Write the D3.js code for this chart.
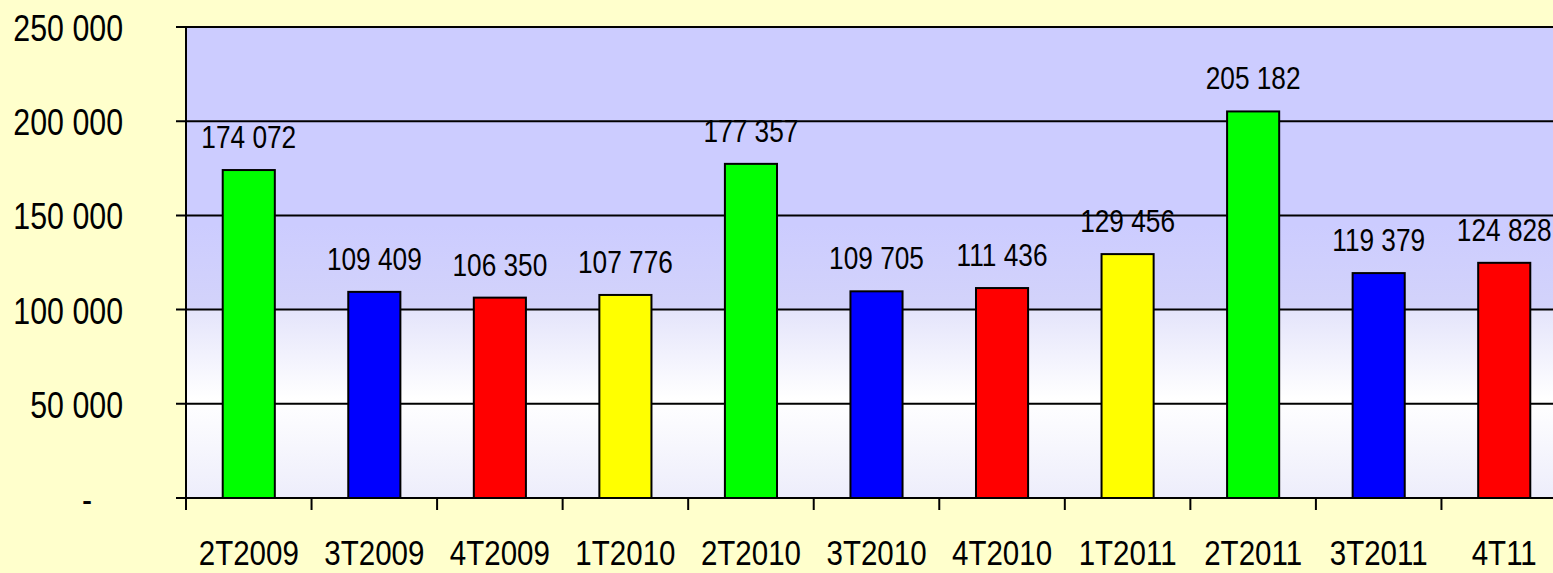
<!DOCTYPE html>
<html lang="en">
    <head>
        <meta charset="utf-8">
        <title>Trimestres</title>
        <script src="https://d3js.org/d3.v7.min.js"></script>
        <style type="text/css">
            body { margin: 0; background: #FFFFCC; }
            text { font-family: "Liberation Sans", Arial, sans-serif; fill: #000; }
        </style>
    </head>
    <body>
        <script>
            // data
            var quarters = ["2T2009", "3T2009", "4T2009", "1T2010", "2T2010", "3T2010", "4T2010", "1T2011", "2T2011", "3T2011", "4T11"];
            var values = [174072, 109409, 106350, 107776, 177357, 109705, 111436, 129456, 205182, 119379, 124828];
            var barColors = ["#00FF00", "#0000FF", "#FF0000", "#FFFF00", "#00FF00", "#0000FF", "#FF0000", "#FFFF00", "#00FF00", "#0000FF", "#FF0000"];
            var yTicks = [0, 50000, 100000, 150000, 200000, 250000];

            // configuration
            var outerWidth = 1553;
            var outerHeight = 573;
            var plot = { left: 186, right: 1567, top: 27, bottom: 498 };
            var squeeze = 0.82; // narrow font look

            var svg = d3.select("body")
                .append("svg")
                .attr("width", outerWidth)
                .attr("height", outerHeight);

            svg.append("rect")
                .attr("width", outerWidth)
                .attr("height", outerHeight)
                .attr("fill", "#FFFFCC");

            var xScale = d3.scaleBand()
                .domain(quarters)
                .range([plot.left, plot.right])
                .paddingInner(0.585)
                .paddingOuter(0.2925);

            var yScale = d3.scaleLinear()
                .domain([0, 250000])
                .range([plot.bottom, plot.top]);

            // background gradient of plot area
            var defs = svg.append("defs");
            var grad = defs.append("linearGradient")
                .attr("id", "bg")
                .attr("x1", 0).attr("y1", 0)
                .attr("x2", 0).attr("y2", 1);
            [
                [0, "#CCCCFF"],
                [0.42, "#CCCCFF"],
                [0.6, "#D3D3FA"],
                [0.601, "#E4E4FB"],
                [0.79, "#FFFFFF"],
                [1, "#EDEDFB"]
            ].forEach(function(s) {
                grad.append("stop").attr("offset", s[0]).attr("stop-color", s[1]);
            });

            svg.append("rect")
                .attr("x", plot.left)
                .attr("y", plot.top)
                .attr("width", plot.right - plot.left)
                .attr("height", plot.bottom - plot.top)
                .attr("fill", "url(#bg)");

            // gridlines
            svg.selectAll(".grid")
                .data(yTicks)
                .enter()
                .append("line")
                .attr("class", "grid")
                .attr("x1", plot.left - 10)
                .attr("x2", plot.right)
                .attr("y1", function(d) { return yScale(d); })
                .attr("y2", function(d) { return yScale(d); })
                .attr("stroke", "#000")
                .attr("stroke-width", 2);

            // y axis line
            svg.append("line")
                .attr("x1", plot.left).attr("x2", plot.left)
                .attr("y1", plot.top).attr("y2", plot.bottom)
                .attr("stroke", "#000")
                .attr("stroke-width", 2);

            // y labels
            var fmt = function(d) { return d === 0 ? "-" : d3.format(",")(d).replace(/,/g, " "); };
            svg.selectAll(".ylab")
                .data(yTicks)
                .enter()
                .append("text")
                .attr("class", "ylab")
                .attr("transform", function(d) {
                    var x = d === 0 ? 92 : 123;
                    return "translate(" + x + "," + (yScale(d) + 14) + ") scale(" + squeeze + ",1)";
                })
                .attr("text-anchor", "end")
                .style("font-size", "37px")
                .text(fmt);

            // bars
            svg.selectAll(".bar")
                .data(values)
                .enter()
                .append("rect")
                .attr("class", "bar")
                .attr("x", function(d, i) { return xScale(quarters[i]); })
                .attr("y", function(d) { return yScale(d); })
                .attr("width", xScale.bandwidth())
                .attr("height", function(d) { return plot.bottom - yScale(d); })
                .attr("fill", function(d, i) { return barColors[i]; })
                .attr("stroke", "#000")
                .attr("stroke-width", 2);

            // bar labels
            svg.selectAll(".val")
                .data(values)
                .enter()
                .append("text")
                .attr("class", "val")
                .attr("transform", function(d, i) {
                    var x = xScale(quarters[i]) + xScale.bandwidth() / 2;
                    return "translate(" + x + "," + (yScale(d) - 22) + ") scale(" + squeeze + ",1)";
                })
                .attr("text-anchor", "middle")
                .style("font-size", "32px")
                .text(function(d) { return d3.format(",")(d).replace(/,/g, " "); });

            // x axis line and ticks
            svg.append("line")
                .attr("x1", plot.left).attr("x2", plot.right)
                .attr("y1", plot.bottom).attr("y2", plot.bottom)
                .attr("stroke", "#000")
                .attr("stroke-width", 2);

            var step = xScale.step();
            var tickPos = d3.range(quarters.length + 1).map(function(i) { return plot.left + i * step; });
            svg.selectAll(".xtick")
                .data(tickPos)
                .enter()
                .append("line")
                .attr("class", "xtick")
                .attr("x1", function(d) { return d; })
                .attr("x2", function(d) { return d; })
                .attr("y1", plot.bottom)
                .attr("y2", plot.bottom + 12)
                .attr("stroke", "#000")
                .attr("stroke-width", 2);

            // x labels
            svg.selectAll(".xlab")
                .data(quarters)
                .enter()
                .append("text")
                .attr("class", "xlab")
                .attr("transform", function(d) {
                    var x = xScale(d) + xScale.bandwidth() / 2;
                    return "translate(" + x + ",565) scale(" + squeeze + ",1)";
                })
                .attr("text-anchor", "middle")
                .style("font-size", "36px")
                .text(function(d) { return d; });
        </script>
    </body>
</html>
